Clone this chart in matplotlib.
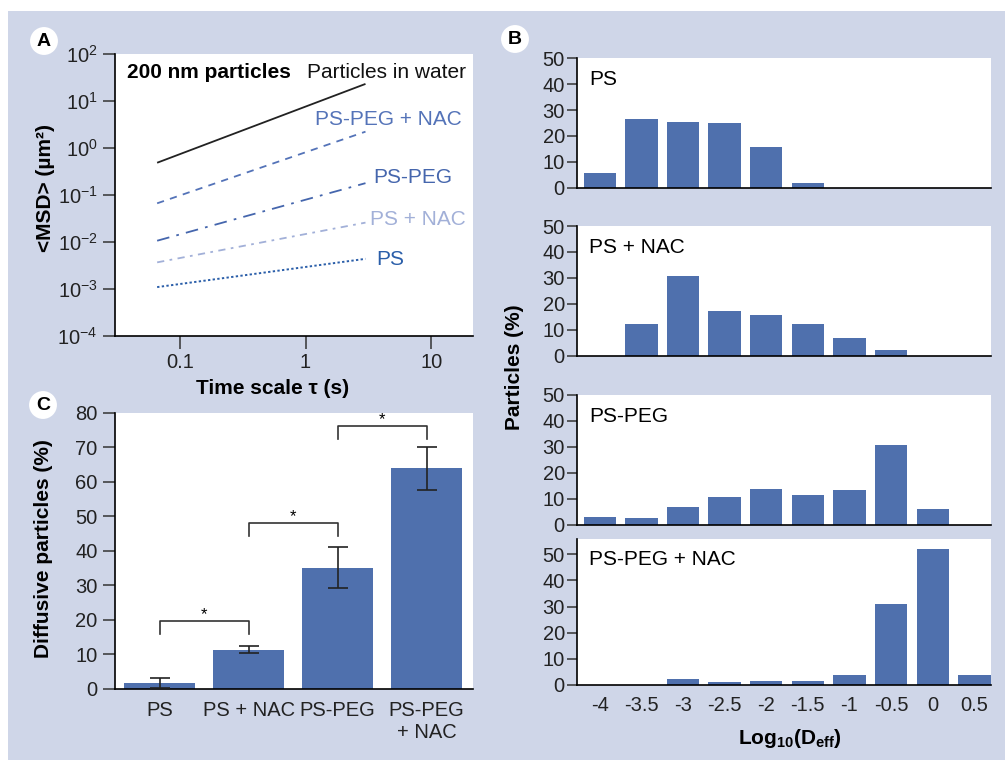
import numpy as np
import matplotlib
matplotlib.use("Agg")
import matplotlib.pyplot as plt
from matplotlib.patches import Rectangle
from matplotlib.ticker import NullLocator, FixedLocator

plt.rcParams['font.family'] = ['Liberation Sans', 'DejaVu Sans']
plt.rcParams['mathtext.fontset'] = 'custom'
plt.rcParams['mathtext.rm'] = 'Liberation Sans'
plt.rcParams['mathtext.bf'] = 'Liberation Sans:bold'
plt.rcParams['mathtext.it'] = 'Liberation Sans:italic'

# ---- data ----
# panel A: MSD vs time scale (end points of each straight log-log line)
tau = [0.066, 3.0]
msd_water = [0.49, 23.4]
msd_pspeg_nac = [0.067, 2.25]
msd_pspeg = [0.0107, 0.18]
msd_ps_nac = [0.0037, 0.026]
msd_ps = [0.0011, 0.0044]

# panel B: distribution of log10(Deff)
log_deff = [-4, -3.5, -3, -2.5, -2, -1.5, -1, -0.5, 0, 0.5]
hist_ps = [5.8, 26.5, 25.3, 24.9, 15.9, 1.8, 0, 0, 0, 0]
hist_ps_nac = [0, 12.3, 30.8, 17.4, 15.8, 12.2, 6.9, 2.1, 0, 0]
hist_pspeg = [3.1, 2.8, 6.8, 10.9, 13.8, 11.4, 13.6, 30.9, 6.0, 0]
hist_pspeg_nac = [0, 0, 2.2, 1.3, 1.7, 1.5, 3.7, 30.9, 51.9, 3.7]

# panel C: diffusive particles
groups = ["PS", "PS + NAC", "PS-PEG", "PS-PEG\n+ NAC"]
diffusive = [1.7, 11.4, 35.1, 63.9]
diffusive_err = [1.4, 1.0, 5.9, 6.2]
# significance brackets: (left bar, right bar, height)
brackets = [(0, 1, 19.8), (1, 2, 48.2), (2, 3, 76.2)]

bg = "#cfd6e8"
bar_col = "#4f70ad"

fig = plt.figure(figsize=(10.07, 7.6), dpi=100)
fig.patch.set_facecolor("white")
fig.patches.append(Rectangle((8/1007, 0), 997/1007, 1 - 11/760,
                             transform=fig.transFigure, facecolor=bg,
                             edgecolor="none", zorder=-10))

tick_fs = 14.5
lab_fs = 15

def style_axis(ax):
    ax.spines["top"].set_visible(False)
    ax.spines["right"].set_visible(False)
    ax.spines["left"].set_linewidth(1.2)
    ax.spines["bottom"].set_linewidth(1.2)
    ax.set_facecolor("white")
    ax.tick_params(labelsize=tick_fs, direction="out", width=1.1, length=8, color="#333333",
                   labelcolor="#222222")

# ---- panel A ----
axA = fig.add_axes([115/1007, 1 - 336/760, 358/1007, 281.7/760])
style_axis(axA)
axA.set_xscale("log")
axA.set_yscale("log")
axA.plot(tau, msd_water, color="#222222", lw=1.3, solid_capstyle="butt")
axA.plot(tau, msd_pspeg_nac, color="#5473b8", lw=1.3, dashes=(4, 3.5))
axA.plot(tau, msd_pspeg, color="#4566ad", lw=1.3, dashes=(7, 4, 1.5, 4))
axA.plot(tau, msd_ps_nac, color="#a2b0d8", lw=1.3, dashes=(4, 3, 1.5, 3))
axA.plot(tau, msd_ps, color="#2a5ea9", lw=1.4, dashes=(1.2, 1.2))
axA.set_xlim(0.0305, 21.5)
axA.set_ylim(1e-4, 1e2)
axA.xaxis.set_major_locator(FixedLocator([0.1, 1, 10]))
axA.set_xticklabels(["0.1", "1", "10"])
axA.xaxis.set_minor_locator(NullLocator())
axA.yaxis.set_minor_locator(NullLocator())
axA.set_yticks([1e-4, 1e-3, 1e-2, 1e-1, 1e0, 1e1, 1e2])
axA.tick_params(axis="both", length=9)
axA.text(0.034, 0.937, "200 nm particles", transform=axA.transAxes, fontsize=lab_fs,
         fontweight="bold", va="center")
axA.text(0.536, 0.937, "Particles in water", transform=axA.transAxes, fontsize=lab_fs,
         va="center", color="#111111")
axA.text(0.559, 0.767, "PS-PEG + NAC", transform=axA.transAxes, fontsize=lab_fs,
         va="center", color="#5473b8")
axA.text(0.721, 0.561, "PS-PEG", transform=axA.transAxes, fontsize=lab_fs,
         va="center", color="#4566ad")
axA.text(0.712, 0.415, "PS + NAC", transform=axA.transAxes, fontsize=lab_fs,
         va="center", color="#a2b0d8")
axA.text(0.729, 0.273, "PS", transform=axA.transAxes, fontsize=lab_fs,
         va="center", color="#2a5ea9")
axA.set_xlabel("Time scale \u03c4 (s)", fontsize=lab_fs, fontweight="bold")
axA.xaxis.set_label_coords(0.441, -0.152)
axA.set_ylabel("<MSD> (\u00b5m\u00b2)", fontsize=lab_fs, fontweight="bold")
axA.yaxis.set_label_coords(-0.168, 0.525)

# ---- panel C ----
axC = fig.add_axes([115/1007, 1 - 689/760, 358/1007, 276.3/760])
style_axis(axC)
xpos = np.arange(len(groups))
axC.bar(xpos, diffusive, width=0.8, color=bar_col, zorder=2)
axC.errorbar(xpos, diffusive, yerr=diffusive_err, fmt="none", ecolor="#222222",
             elinewidth=1.2, capsize=7, capthick=1.2, zorder=3)
for a, b, h in brackets:
    axC.plot([a, a, b, b], [h - 3.9, h, h, h - 3.9], color="#333333", lw=1.2)
    axC.text((a + b) / 2, h + 1.8, "*", ha="center", va="center", fontsize=12)
axC.set_xlim(-0.5, 3.52)
axC.set_ylim(0, 80)
axC.set_yticks(range(0, 81, 10))
axC.set_xticks(xpos)
axC.set_xticklabels(groups, multialignment="center")
axC.tick_params(axis="x", length=0, pad=9)
axC.tick_params(axis="y", length=9)
axC.set_ylabel("Diffusive particles (%)", fontsize=lab_fs, fontweight="bold")
axC.yaxis.set_label_coords(-0.173, 0.51)

# ---- panel B ----
b_left = 577.3/1007
b_width = 413.7/1007
b_specs = [
    (hist_ps, "PS", 58.3, 187.7, 50, 0.84),
    (hist_ps_nac, "PS + NAC", 226, 355.7, 50, 0.833),
    (hist_pspeg, "PS-PEG", 395, 525, 50, 0.838),
    (hist_pspeg_nac, "PS-PEG + NAC", 539.3, 685, 55.7, 0.858),
]
axes_B = []
for vals, name, top, bot, ymax, ty in b_specs:
    ax = fig.add_axes([b_left, 1 - bot/760, b_width, (bot - top)/760])
    style_axis(ax)
    ax.bar(log_deff, vals, width=0.39, color=bar_col, zorder=2)
    ax.set_xlim(-4.27, 0.7)
    ax.set_ylim(0, ymax)
    ax.set_yticks(range(0, 51, 10))
    ax.tick_params(axis="x", length=0, pad=8)
    ax.tick_params(axis="y", length=7, pad=2)
    ax.set_xticks(log_deff)
    ax.set_xticklabels([])
    ax.text(0.028, ty, name, transform=ax.transAxes, fontsize=lab_fs, va="center")
    axes_B.append(ax)
axes_B[-1].set_xticklabels(["-4", "-3.5", "-3", "-2.5", "-2", "-1.5", "-1", "-0.5", "0", "0.5"])
axes_B[-1].set_xlabel(r"$\mathbf{Log_{10}(D_{eff})}$", fontsize=lab_fs)
axes_B[-1].xaxis.set_label_coords(0.514, -0.285)
fig.text(515/1007, 1 - 367/760, "Particles (%)", rotation=90, fontsize=lab_fs,
         fontweight="bold", ha="center", va="center")

# panel letters
for lx, ly, letter in [(44, 41, "A"), (515, 39, "B"), (43, 405, "C")]:
    fig.text(lx/1007, 1 - ly/760, letter, fontsize=14, fontweight="bold", ha="center",
             va="center", bbox=dict(boxstyle="circle,pad=0.28", fc="white", ec="none"))

fig.savefig("out.png", dpi=100, facecolor=fig.get_facecolor())
